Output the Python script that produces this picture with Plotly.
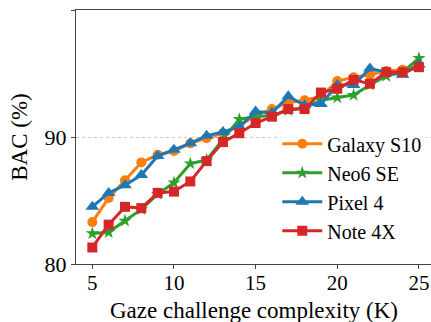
import plotly.graph_objects as go

# Gaze challenge complexity K
k_values = list(range(5, 26))

galaxy_s10 = [83.3, 85.2, 86.6, 88.0, 88.6, 88.9, 89.5, 89.9, 90.3, 90.9, 91.7,
              92.2, 92.7, 92.9, 93.2, 94.4, 94.7, 94.9, 95.2, 95.3, 95.6]
neo6_se = [82.4, 82.5, 83.4, 84.3, 85.5, 86.4, 87.9, 88.2, 89.8, 91.4, 91.6,
           91.7, 92.1, 92.3, 92.9, 93.1, 93.3, 94.1, 94.8, 95.1, 96.2]
pixel_4 = [84.5, 85.6, 86.2, 87.0, 88.5, 89.0, 89.5, 90.1, 90.4, 90.8, 92.0,
           91.9, 93.2, 92.5, 92.6, 94.1, 94.1, 95.4, 95.1, 94.9, 95.7]
note_4x = [81.3, 83.1, 84.5, 84.4, 85.6, 85.7, 86.5, 88.1, 89.6, 90.3, 91.1,
           91.6, 92.2, 92.2, 93.5, 93.8, 94.5, 94.2, 95.1, 95.1, 95.5]

x_ticks = [5, 10, 15, 20, 25]
y_ticks = [80, 90, 100]

series = [
    ("Galaxy S10", galaxy_s10, "#ff7f0e", "circle", 10),
    ("Neo6 SE", neo6_se, "#2ca02c", "star", 10),
    ("Pixel 4", pixel_4, "#1f77b4", "triangle-up", 12),
    ("Note 4X", note_4x, "#d62728", "square", 10),
]

FONT = "Liberation Serif"

fig = go.Figure()
for name, vals, color, symbol, size in series:
    fig.add_trace(go.Scatter(
        x=k_values, y=vals, name=name, mode="lines+markers",
        line=dict(color=color, width=3),
        marker=dict(symbol=symbol, size=size, color=color, line=dict(width=0)),
    ))

fig.update_layout(
    width=431, height=322,
    margin=dict(l=76, r=0, t=10, b=58),
    paper_bgcolor="white", plot_bgcolor="white",
    font=dict(family=FONT, color="black"),
    showlegend=True,
    legend=dict(
        x=0.567, y=0.55, xanchor="left", yanchor="top",
        font=dict(family=FONT, size=20, color="black"),
        bgcolor="rgba(255,255,255,0.8)",
        tracegroupgap=0, itemwidth=40,
    ),
)

# x-axis title placed as an annotation just under the tick labels
fig.add_annotation(
    text="Gaze challenge complexity (K)", xref="paper", yref="paper",
    x=0.5, y=0, yshift=-32, xanchor="center", yanchor="top", showarrow=False,
    font=dict(family=FONT, size=23, color="black"),
)

fig.update_xaxes(
    range=[4, 25.74], tickvals=x_ticks, ticks="outside", ticklen=4,
    ticklabelstandoff=-4,
    tickcolor="#444", tickfont=dict(family=FONT, size=21, color="black"),
    showgrid=False, showline=True, linecolor="#444", linewidth=1.2,
    mirror=True, zeroline=False,
)
fig.update_yaxes(
    range=[80, 100], tickvals=y_ticks, ticks="outside", ticklen=4,
    tickcolor="#444", tickfont=dict(family=FONT, size=22, color="black"),
    showgrid=True, gridcolor="#c8c8c8", griddash="dot", gridwidth=1,
    showline=True, linecolor="#444", linewidth=1.2, mirror=False,
    zeroline=False,
    title=dict(text="BAC (%)", font=dict(family=FONT, size=23, color="black"), standoff=10),
)

fig.write_html("out.html")
